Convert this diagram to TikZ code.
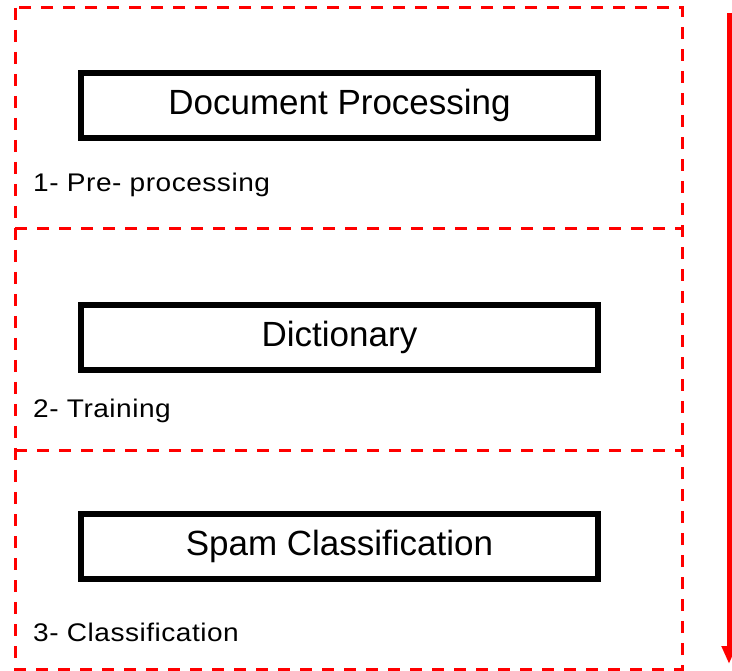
\documentclass[tikz,border=0pt]{standalone}
\usepackage{fontspec}
\setmainfont{Liberation Sans}
\newfontfamily\labelfont[FakeStretch=1.1,LetterSpace=2]{Liberation Sans}
\usetikzlibrary{arrows.meta}
\definecolor{stagered}{RGB}{255,0,0}
\tikzset{
  stageline/.style={draw=stagered, line width=3pt, dash pattern=on 12pt off 10pt},
  stepbox/.style={draw=black, line width=6pt, fill=white, minimum width=517pt, minimum height=65pt,
    inner sep=0pt, font=\fontsize{35}{40}\selectfont},
  stagelabel/.style={anchor=base west, inner sep=0pt, font=\labelfont\fontsize{25.5}{30}\selectfont},
  flow/.style={draw=stagered, line width=5pt, -{Triangle[length=18pt,width=14pt]}}
}
\begin{document}
\begin{tikzpicture}[x=1pt,y=-1pt]
  \useasboundingbox (0,0) rectangle (732,671);
  % stage frame and dividers
  \draw[stageline] (15,8) rectangle (682,669);
  \draw[stageline] (15,229) -- (682,229);
  \draw[stageline] (15,451) -- (682,451);
  % boxes
  \node[stepbox] (doc) at (339.5,105.5) {Document Processing};
  \node[stepbox] (dict) at (339.5,337.5) {Dictionary};
  \node[stepbox] (spam) at (339.5,546) {Spam Classification};
  % stage labels
  \node[stagelabel] (l1) at (33,192) {1- Pre- processing};
  \node[stagelabel] (l2) at (33,418) {2- Training};
  \node[stagelabel] (l3) at (33,641) {3- Classification};
  % direction arrow
  \coordinate (atop) at (729,13);
  \coordinate (abot) at (729,664);
  \draw[flow] (atop) -- (abot);
\end{tikzpicture}
\end{document}
